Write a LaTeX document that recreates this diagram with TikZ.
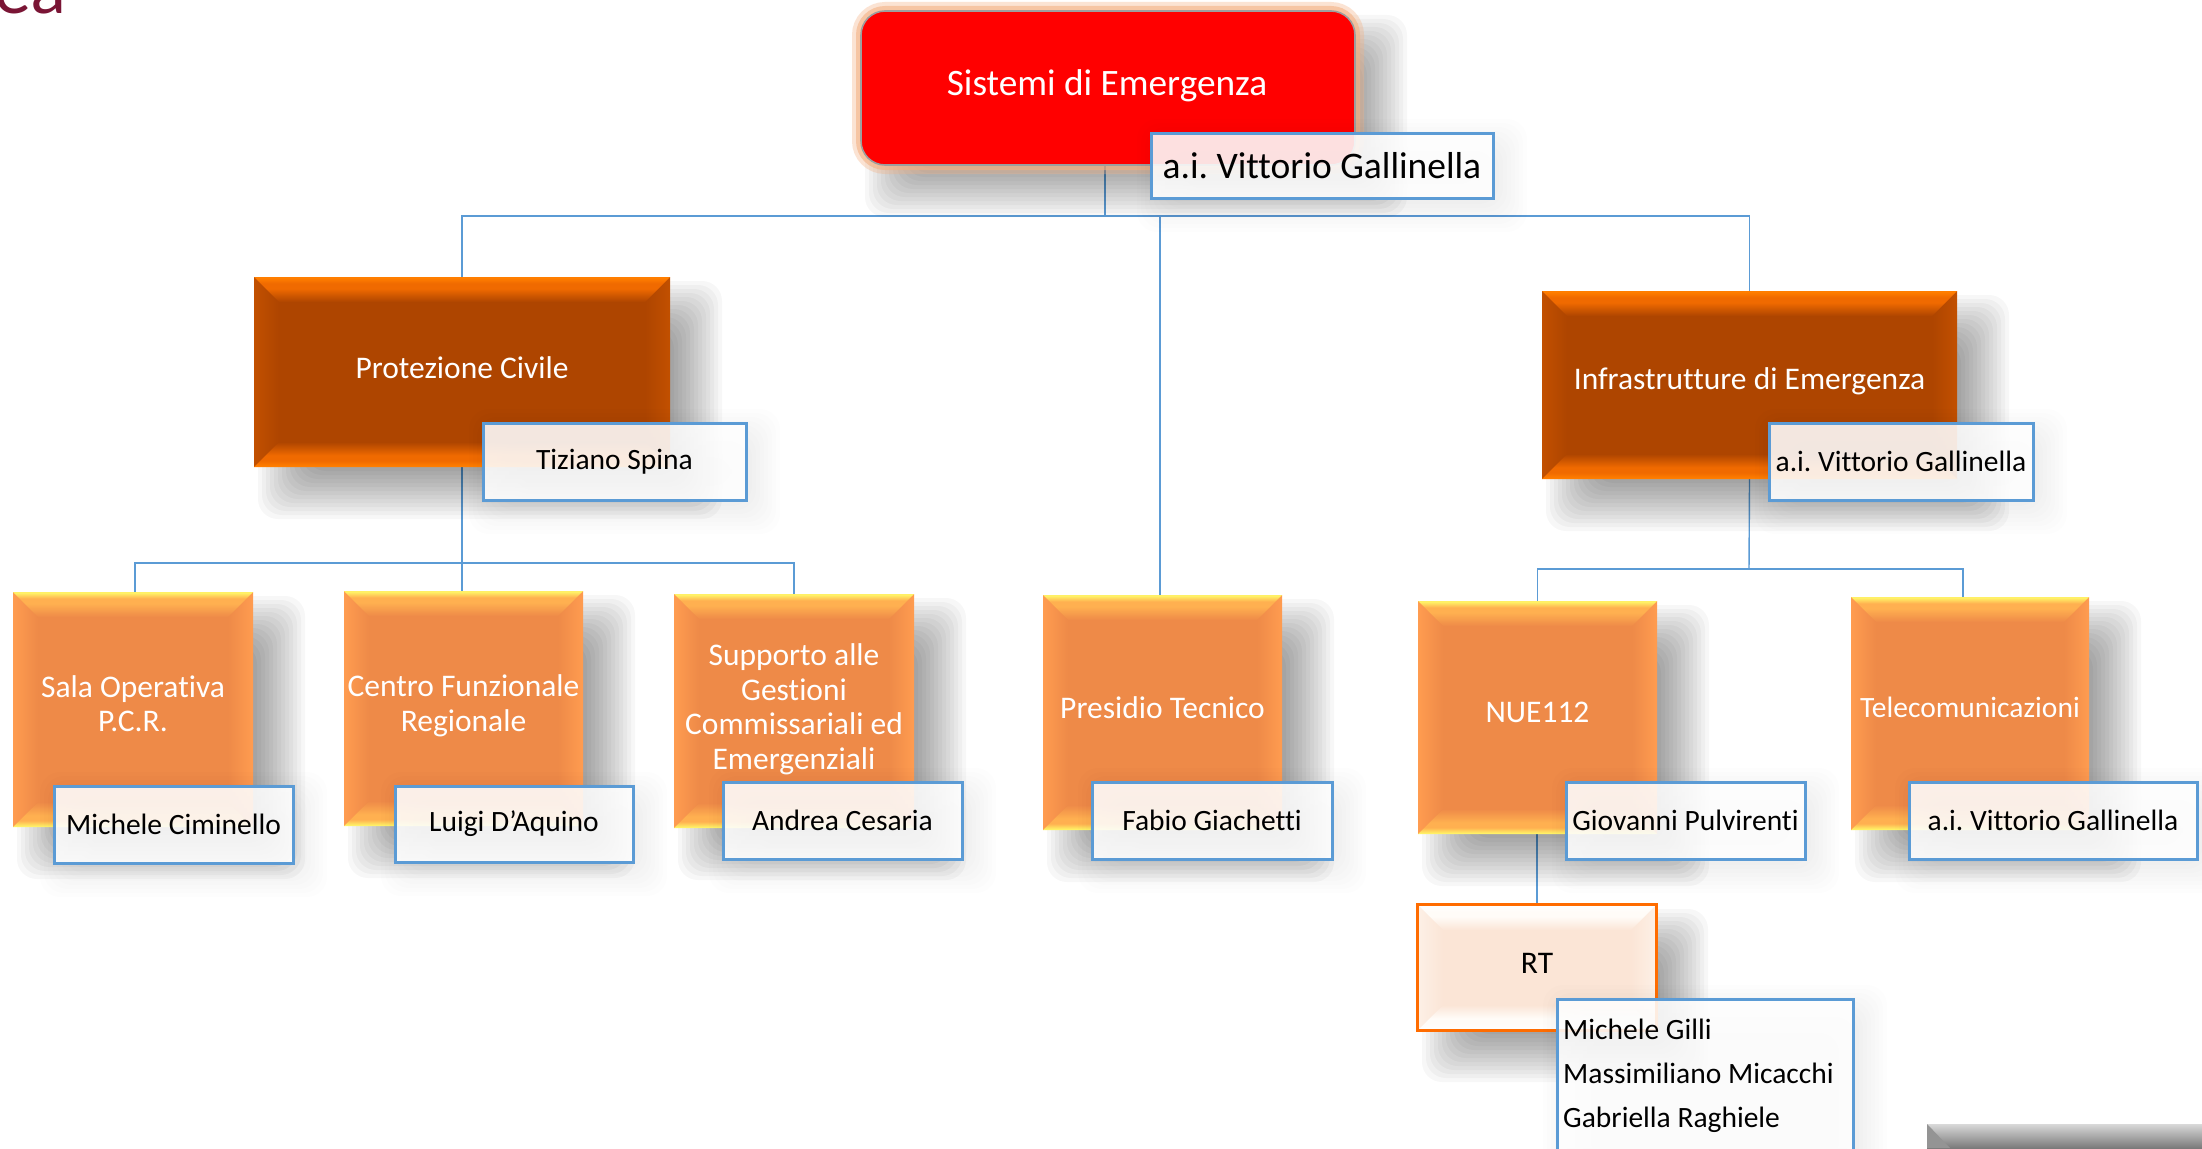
\documentclass[tikz,border=0pt]{standalone}
\usepackage{fontspec}
\setmainfont[Ligatures=NoCommon]{Carlito}
\newfontfamily\logofont{Lato}
\frenchspacing
\pgfdeclarelayer{paper}
\pgfdeclarelayer{wires}
\pgfsetlayers{paper,wires,main}
\definecolor{wirecol}{HTML}{5B9BD5}
\definecolor{namecol}{HTML}{5B9BD5}
\definecolor{glowcol}{HTML}{F4B183}
\definecolor{logocol}{HTML}{7A1535}
\definecolor{darkbase}{HTML}{AE4500}
\definecolor{darkedge}{HTML}{FF7E00}
\definecolor{darkmid}{HTML}{F06A00}
\definecolor{darkside}{HTML}{C25000}
\definecolor{midbase}{HTML}{EE8A48}
\definecolor{midedge}{HTML}{FFF066}
\definecolor{midmid}{HTML}{FFB050}
\definecolor{midside}{HTML}{FF9C50}
\definecolor{palebase}{HTML}{FBE5D6}
\definecolor{paleedge}{HTML}{FFFFFF}
\definecolor{palemid}{HTML}{FFFCF8}
\definecolor{paleside}{HTML}{FDF0E6}
% bevel shadings for each palette: bottom-to-top and its mirror image
\newcommand{\makebevel}[1]{%
  \pgfdeclareverticalshading{#1top}{100bp}{color(0bp)=(#1base);color(25bp)=(#1base);color(52bp)=(#1mid);color(62bp)=(#1mid);color(73bp)=(#1edge);color(100bp)=(#1edge)}%
  \pgfdeclareverticalshading{#1bot}{100bp}{color(0bp)=(#1edge);color(27bp)=(#1edge);color(38bp)=(#1mid);color(48bp)=(#1mid);color(75bp)=(#1base);color(100bp)=(#1base)}%
}
\makebevel{dark}\makebevel{mid}\makebevel{pale}
\tikzset{
  wire/.style={draw=wirecol,line width=1.4pt},
  labeldark/.style={text=white,font=\fontsize{31.5}{35}\selectfont,align=center},
  labelmid/.style={text=white,font=\fontsize{31.5}{34.5}\selectfont,align=center},
  labelpale/.style={text=black,font=\fontsize{31.5}{34.5}\selectfont,align=center},
  namebox/.style={draw=namecol,line width=3pt,fill=white,fill opacity=.88,draw opacity=1,text opacity=1,
    text=black,inner sep=0pt,font=\fontsize{29.5}{35}\selectfont},
  bigname/.style={namebox,font=\fontsize{37.5}{40}\selectfont},
  rootlabel/.style={text=white,inner sep=0pt,font=\fontsize{37.3}{40}\selectfont},
  shadowlayer/.style={fill=black,rounded corners=20pt}
}
% soft shadow: x0 y0 x1 y1 offset opacity
\newcommand{\softshadow}[6]{%
  \foreach \e in {-24,-20,...,24}{%
    \fill[shadowlayer,opacity=#6] ({#1+#5+\e},{#2+#5+\e}) rectangle ({#3+#5-\e},{#4+#5-\e});
  }%
}
% bevelled box: [text lift] name x0 y0 x1 y1 palette text
\newcommand{\bevelbox}[8][4.5]{%
  \softshadow{#3}{#4}{#5}{#6}{28}{.03}%
  \fill[#7base] (#3,#4) rectangle (#5,#6);
  \shade[left color=#7side,right color=#7base] (#3,#4) -- ({#3+25},{#4+25}) -- ({#3+25},{#6-25}) -- (#3,#6) -- cycle;
  \shade[left color=#7base,right color=#7side] (#5,#4) -- ({#5-25},{#4+25}) -- ({#5-25},{#6-25}) -- (#5,#6) -- cycle;
  \shade[shading=#7top] (#3,#4) -- (#5,#4) -- ({#5-25},{#4+25}) -- ({#3+25},{#4+25}) -- cycle;
  \shade[shading=#7bot] (#3,#6) -- (#5,#6) -- ({#5-25},{#6-25}) -- ({#3+25},{#6-25}) -- cycle;
  \node[inner sep=0pt,minimum width={(#5-#3)*1pt},minimum height={(#6-#4)*1pt}] (#2) at ({(#3+#5)/2},{(#4+#6)/2}) {};
  \node[label#7,inner sep=0pt] (#2text) at ({(#3+#5)/2},{(#4+#6)/2-#1}) {#8};
}
% name plate: name x0 y0 x1 y1 style text
\newcommand{\plate}[7]{%
  \softshadow{#2}{#3}{#4}{#5}{10}{.006}%
  \node[#6,minimum width={(#4-#2)*1pt},minimum height={(#5-#3)*1pt}] (#1) at ({(#2+#4)/2},{(#3+#5)/2}) {#7};
}
\begin{document}
\begin{tikzpicture}[x=1pt,y=-1pt]
\useasboundingbox (0,0) rectangle (2202,1148);
\clip (0,0) rectangle (2202,1148);
\begin{pgfonlayer}{paper}
\fill[white] (0,0) rectangle (2202,1148);
\end{pgfonlayer}

% logo fragment, top left
\node[anchor=base west,inner sep=0pt,text=logocol,font=\logofont\fontsize{70}{70}\selectfont] (logo) at (-6,14) {ea};

% bottom-right fragment
\shade[top color=black!15,bottom color=black!52] (1927,1124) rectangle (2202,1148);
\fill[black!42] (1927,1124) -- (1950,1148) -- (1927,1148) -- cycle;

% root
\softshadow{861}{11}{1355}{165}{28}{.03}
\draw[glowcol,line width=18pt,rounded corners=24pt,opacity=.35] (861,11) rectangle (1355,165);
\draw[glowcol,line width=10pt,rounded corners=24pt,opacity=.6] (861,11) rectangle (1355,165);
\node[fill=red,draw=black!38,line width=1.6pt,rounded corners=24pt,minimum width=494pt,minimum height=154pt,inner sep=0pt] (root) at (1108,88) {};
\node[rootlabel] (roottext) at (1107,86) {Sistemi di Emergenza};

% level 2
\bevelbox{prot}{254}{277}{670}{467}{dark}{Protezione Civile}
\bevelbox[3.5]{infra}{1542}{291}{1957}{479}{dark}{Infrastrutture di Emergenza}

% level 3
\bevelbox[6]{sala}{13}{592}{253}{827}{mid}{Sala Operativa\\P.C.R.}
\bevelbox[2.5]{centro}{344}{591}{583}{826}{mid}{Centro Funzionale\\Regionale}
\bevelbox[1.5]{supp}{674}{594}{914}{828}{mid}{Supporto alle\\Gestioni\\Commissariali ed\\Emergenziali}
\bevelbox{pres}{1043}{595}{1282}{830}{mid}{Presidio Tecnico}
\bevelbox[5.5]{nue}{1418}{601}{1657}{834}{mid}{NUE112}
\bevelbox[6]{tele}{1851}{597}{2089}{830}{mid}{\fontsize{29.5}{34}\selectfont Telecomunicazioni}

% RT
\bevelbox{rt}{1418}{905}{1656}{1030}{pale}{RT}
\draw[draw=orange!85!red,line width=3pt] (rt.north west) rectangle (rt.south east);

% name plates
\plate{nroot}{1151}{133}{1493}{198}{bigname}{a.i. Vittorio Gallinella}
\plate{nprot}{483}{423}{746}{500}{namebox}{Tiziano Spina}
\plate{ninfra}{1769}{423}{2033}{500}{namebox}{a.i. Vittorio Gallinella}
\plate{nsala}{54}{786}{293}{863}{namebox}{Michele Ciminello}
\plate{ncentro}{395}{786}{633}{862}{namebox}{Luigi D’Aquino}
\plate{nsupp}{723}{782}{962}{859}{namebox}{Andrea Cesaria}
\plate{npres}{1092}{782}{1332}{859}{namebox}{Fabio Giachetti}
\plate{nnue}{1566}{782}{1805}{859}{namebox}{Giovanni Pulvirenti}
\plate{ntele}{1909}{782}{2197}{859}{namebox}{a.i. Vittorio Gallinella}
\plate{nrt}{1557}{999}{1853}{1175}{namebox}{}
\node[anchor=north west,inner sep=0pt,align=left,text=black,font=\fontsize{29.5}{44}\selectfont] (nrttext) at (1563,1019) {Michele Gilli\\Massimiliano Micacchi\\Gabriella Raghiele};

% connectors (kept under the boxes and shadows)
\coordinate (busA) at (1105,216);
\coordinate (busPres) at (1160,216);
\coordinate (busB) at (462,563);
\coordinate (busSala) at (135,563);
\coordinate (busC) at (1749,569);
\coordinate (busTele) at (1963,569);
\begin{pgfonlayer}{wires}
\draw[wire] (root.south -| busA) -- (busA);
\draw[wire] (prot.north) |- (busA) -| (infra.north);
\draw[wire] (busPres) -- (busPres |- pres.north);
\draw[wire] (prot.south) -- (prot.south |- centro.north);
\draw[wire] (busSala |- sala.north) -- (busSala) -- (busB) -| (supp.north);
\draw[wire] (infra.south) -- (busC);
\draw[wire] (nue.north) |- (busC) -- (busTele) -- (busTele |- tele.north);
\draw[wire] (nue.south -| rt.north) -- (rt.north);
\end{pgfonlayer}
\end{tikzpicture}
\end{document}
